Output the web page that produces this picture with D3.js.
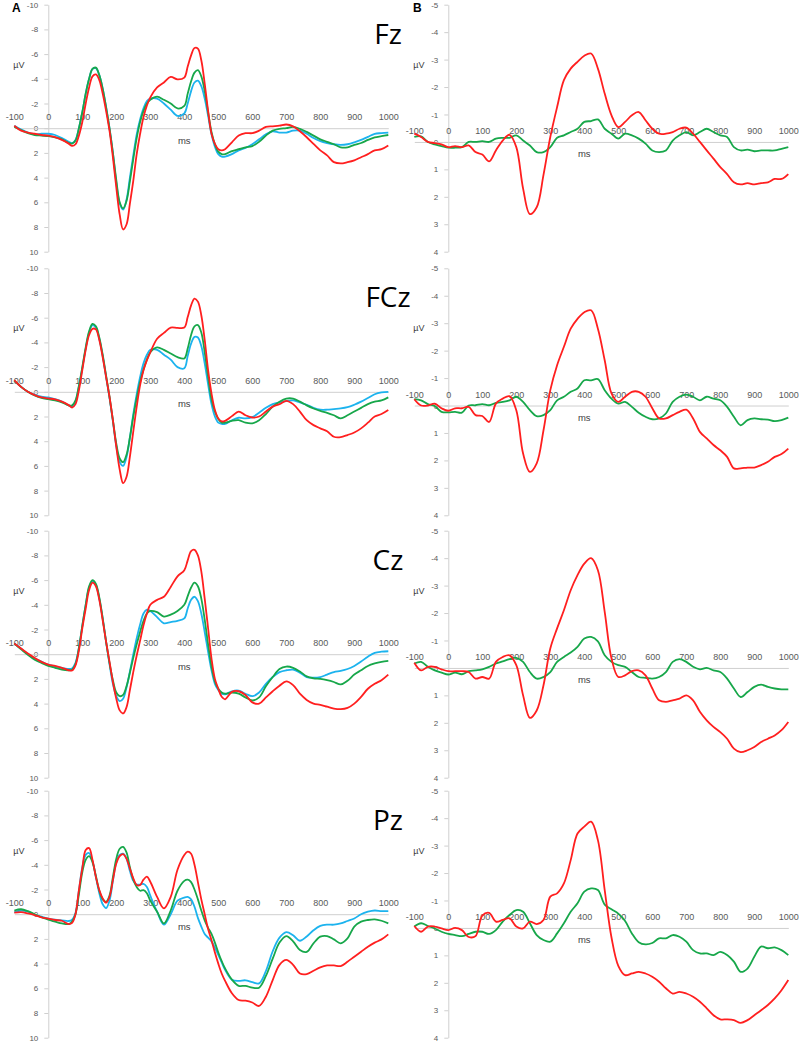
<!DOCTYPE html>
<html><head><meta charset="utf-8">
<script src="https://cdn.jsdelivr.net/npm/d3@7/dist/d3.min.js"></script>
<style>body{margin:0;background:#fff}svg{display:block}</style>
</head><body>
<svg id="chart" width="799" height="1042"></svg>
<script>
// ---------- DATA ----------
const electrodes = ["Fz", "FCz", "Cz", "Pz"];
const xTicks = [-100, 0, 100, 200, 300, 400, 500, 600, 700, 800, 900, 1000];
const yTicksA = [-10, -8, -6, -4, -2, 0, 2, 4, 6, 8, 10];
const yTicksB = [-5, -4, -3, -2, -1, 0, 1, 2, 3, 4];

// time points (ms) for panel A curves
const tA = [-100,-80,-60,-40,-20,0,20,40,60,
  70,80,90,100,110,120,130,140,150,160,170,180,190,200,210,220,230,240,250,260,270,280,290,300,
  320,340,360,380,400,
  410,420,430,440,450,460,470,480,490,500,510,520,
  540,560,580,600,620,640,660,680,700,720,740,760,780,800,820,840,860,880,900,920,940,960,980,1000];
// time points (ms) for panel B curves
const tB = d3.range(-100, 1001, 20);

// Panel A (µV, negative up)
const fzRedA = [-0.2,0.2,0.35,0.45,0.55,0.6,0.73,0.95,1.25,
  1.43,1.3,0.6,-0.5,-2.0,-3.3,-4.2,-4.35,-3.9,-2.8,-1.4,0.2,2.35,4.8,7.0,8.2,7.8,6.1,4.25,2.1,0.46,-0.9,-1.85,-2.5,
  -3.3,-3.7,-4.15,-3.95,-4.1,
  -5.0,-5.9,-6.5,-6.45,-5.5,-3.6,-1.4,0.45,1.27,1.7,1.8,1.7,
  1.14,0.6,0.4,0.4,0.2,-0.1,-0.15,-0.2,-0.3,-0.15,0.25,0.73,1.27,1.8,2.2,2.75,2.85,2.75,2.6,2.35,2.1,1.8,1.7,1.4];
const fzGreenA = [-0.1,0.15,0.4,0.55,0.6,0.65,0.75,0.9,1.2,
  1.25,1.0,0.0,-1.3,-2.8,-4.0,-4.8,-4.9,-4.3,-3.2,-1.7,0.0,2.0,4.2,6.0,6.5,5.9,4.3,2.5,0.8,-0.5,-1.4,-2.0,-2.3,
  -2.55,-2.3,-2.0,-1.6,-1.8,
  -2.8,-3.8,-4.5,-4.7,-4.2,-3.0,-1.3,0.3,1.3,1.9,2.1,2.1,
  1.85,1.7,1.55,1.45,1.1,0.6,0.2,0.05,0.0,-0.1,0.05,0.3,0.6,0.9,1.1,1.3,1.55,1.55,1.35,1.2,0.95,0.75,0.65,0.55];
const fzBlueA = [-0.2,0.1,0.35,0.5,0.45,0.45,0.55,0.8,1.1,
  1.2,0.95,0.0,-1.3,-2.8,-4.0,-4.8,-4.85,-4.3,-3.2,-1.7,0.0,2.0,4.4,6.1,6.6,5.8,4.0,2.2,0.5,-0.7,-1.6,-2.2,-2.4,
  -2.4,-2.0,-1.5,-1.0,-1.2,
  -2.0,-3.0,-3.7,-3.85,-3.4,-2.4,-1.0,0.5,1.5,2.1,2.3,2.3,
  2.1,1.8,1.6,1.3,0.9,0.5,0.25,0.35,0.35,0.2,0.2,0.45,0.8,1.05,1.2,1.3,1.35,1.3,1.15,0.95,0.7,0.45,0.4,0.35];

const fczRedA = [-0.95,-0.4,0.0,0.27,0.46,0.54,0.62,0.8,1.08,
  1.27,1.0,-0.13,-1.75,-3.4,-4.6,-5.1,-5.05,-4.2,-2.8,-1.2,0.4,2.3,4.45,6.3,7.4,6.9,5.25,3.2,1.2,-0.54,-1.75,-2.56,-3.2,
  -4.3,-4.77,-5.2,-5.17,-5.2,
  -6.05,-7.0,-7.55,-7.3,-6.2,-4.2,-1.75,0.13,1.48,2.16,2.4,2.35,
  1.97,1.6,1.9,2.08,2.0,1.6,1.2,1.0,0.73,1.0,1.6,2.3,2.7,2.96,3.2,3.64,3.67,3.5,3.3,2.96,2.5,2.0,1.8,1.48];
const fczGreenA = [-0.9,-0.4,0.0,0.3,0.5,0.6,0.7,0.85,1.1,
  1.1,0.7,-0.5,-2.0,-3.6,-4.9,-5.5,-5.3,-4.4,-3.0,-1.3,0.4,2.3,4.2,5.4,5.7,5.1,3.7,2.0,0.5,-0.8,-1.8,-2.6,-3.2,
  -3.6,-3.4,-3.1,-2.8,-2.7,
  -3.5,-4.6,-5.3,-5.4,-4.8,-3.2,-1.2,0.6,1.6,2.2,2.5,2.5,
  2.35,2.3,2.5,2.55,2.3,1.8,1.2,0.8,0.55,0.55,0.8,1.1,1.35,1.55,1.7,1.9,2.15,1.9,1.6,1.3,1.0,0.8,0.7,0.45];
const fczBlueA = [-0.9,-0.4,0.0,0.25,0.4,0.45,0.6,0.8,1.1,
  1.2,0.8,-0.4,-1.9,-3.5,-4.8,-5.4,-5.2,-4.3,-2.9,-1.2,0.5,2.4,4.4,5.7,6.0,5.3,3.7,1.8,0.2,-1.2,-2.3,-3.0,-3.4,
  -3.4,-3.0,-2.6,-2.0,-1.9,
  -2.9,-3.9,-4.45,-4.4,-3.7,-2.3,-0.6,1.0,2.0,2.5,2.6,2.6,
  2.3,2.1,2.15,2.05,1.7,1.3,1.0,0.85,0.75,0.7,0.85,1.05,1.3,1.45,1.45,1.4,1.35,1.25,1.05,0.8,0.5,0.2,0.05,0.0];

const czRedA = [-0.86,-0.46,-0.05,0.3,0.62,0.84,0.95,1.1,1.3,
  1.32,0.9,-0.3,-2.1,-3.7,-5.2,-5.8,-5.5,-4.4,-2.75,-1.0,0.6,2.25,3.6,4.55,4.8,4.3,2.9,1.43,0.1,-1.1,-2.35,-3.3,-4.0,
  -4.4,-4.65,-5.45,-6.3,-6.8,
  -7.6,-8.35,-8.45,-8.0,-6.7,-4.5,-2.1,0.35,2.0,2.8,3.45,3.65,
  3.05,3.0,3.3,3.9,4.0,3.5,3.0,2.55,2.2,2.5,3.2,3.7,4.0,4.1,4.25,4.4,4.45,4.35,4.0,3.45,2.8,2.4,2.1,1.65];
const czGreenA = [-0.86,-0.4,0.05,0.45,0.7,0.95,1.1,1.25,1.3,
  1.25,0.8,-0.5,-2.3,-4.0,-5.5,-6.0,-5.7,-4.6,-2.9,-1.0,0.7,2.1,3.1,3.4,3.3,2.6,1.5,0.3,-0.8,-1.8,-2.7,-3.3,-3.5,
  -3.4,-3.05,-3.2,-3.5,-4.0,
  -4.7,-5.4,-5.8,-5.5,-4.5,-2.8,-0.8,1.0,2.2,2.8,3.1,3.2,
  3.1,3.2,3.5,3.75,3.5,2.6,1.85,1.2,1.0,1.1,1.4,1.8,1.95,2.0,2.1,2.25,2.45,2.15,1.65,1.3,0.95,0.75,0.62,0.54];
const czBlueA = [-0.86,-0.45,0.0,0.35,0.6,0.85,1.0,1.1,1.2,
  1.15,0.7,-0.5,-2.3,-4.0,-5.4,-5.9,-5.6,-4.5,-2.9,-1.0,0.8,2.4,3.4,3.8,3.6,2.7,1.4,0.0,-1.3,-2.4,-3.3,-3.6,-3.5,
  -3.0,-2.5,-2.6,-2.7,-2.9,
  -3.7,-4.4,-4.65,-4.3,-3.3,-1.8,-0.2,1.3,2.4,2.9,3.2,3.25,
  3.0,2.95,3.2,3.4,3.1,2.4,1.85,1.45,1.3,1.25,1.5,1.85,1.9,1.85,1.65,1.45,1.35,1.2,0.95,0.6,0.2,-0.1,-0.2,-0.24];

const pzRedA = [-0.12,-0.17,-0.07,0.07,0.26,0.36,0.47,0.53,0.8,
  0.7,0.0,-1.95,-3.7,-5.2,-5.35,-4.4,-3.0,-1.95,-1.28,-0.93,-1.4,-2.76,-4.1,-4.7,-4.87,-4.5,-3.7,-2.9,-2.36,-2.36,-2.8,-3.04,-2.63,
  -1.4,-0.47,-1.4,-3.6,-4.8,
  -5.06,-4.9,-4.0,-2.6,-1.2,0.0,1.2,2.1,3.1,4.0,4.8,5.4,
  6.4,6.95,7.0,7.15,7.43,6.68,5.33,4.1,3.7,4.1,4.8,4.85,4.58,4.3,4.15,4.15,4.2,3.85,3.44,3.04,2.63,2.3,2.04,1.63];
const pzGreenA = [-0.3,-0.4,-0.25,0.0,0.25,0.45,0.6,0.75,0.8,
  0.6,0.0,-1.6,-3.4,-4.4,-4.7,-4.2,-3.1,-1.9,-1.2,-1.0,-1.5,-3.0,-4.5,-5.3,-5.45,-5.0,-3.8,-2.8,-2.2,-1.9,-1.95,-1.7,-1.1,
  -0.2,0.75,-0.3,-1.9,-2.7,
  -2.8,-2.6,-2.0,-1.2,-0.3,0.5,1.1,1.6,2.3,3.1,3.8,4.4,
  5.3,5.8,5.8,5.95,5.95,5.0,3.6,2.3,1.77,2.2,2.9,3.05,2.36,1.82,1.77,2.04,2.36,1.96,1.0,0.6,0.47,0.42,0.53,0.74];
const pzBlueA = [-0.15,-0.3,-0.2,0.05,0.2,0.35,0.45,0.5,0.55,
  0.45,-0.1,-1.9,-3.8,-4.8,-4.95,-4.3,-3.0,-1.7,-0.8,-0.5,-1.1,-2.7,-4.2,-4.8,-4.9,-4.5,-3.5,-2.7,-2.4,-2.4,-2.45,-2.2,-1.5,
  -0.2,0.85,0.0,-1.1,-1.35,
  -1.4,-1.2,-0.6,0.3,1.0,1.6,1.9,2.2,2.7,3.3,3.9,4.5,
  5.3,5.4,5.35,5.5,5.6,4.6,3.0,1.9,1.45,1.7,2.15,1.8,1.3,0.95,0.85,0.85,0.75,0.55,0.35,0.0,-0.2,-0.3,-0.25,-0.25];

// Panel B (µV, negative up)
const fzRedB = [-0.3,-0.18,0,0.04,0.09,0.19,0.15,0.19,0.13,0.37,0.46,0.71,0.31,-0.05,-0.26,0.19,1.7,2.63,2.38,1.2,
  -0.18,-1.27,-2.25,-2.67,-2.92,-3.14,-3.22,-2.67,-1.76,-0.97,-0.54,-0.73,-0.97,-1.09,-0.79,-0.48,-0.3,-0.3,-0.36,-0.48,
  -0.52,-0.3,0,0.31,0.61,0.92,1.17,1.47,1.55,1.5,1.55,1.5,1.47,1.35,1.35,1.17];
const fzGreenB = [-0.18,-0.2,0,0.09,0.15,0.21,0.21,0.19,0.0,0.0,-0.03,0.0,-0.12,-0.15,-0.15,-0.24,-0.05,0.13,0.37,0.37,
  0.19,-0.15,-0.24,-0.36,-0.48,-0.73,-0.76,-0.82,-0.48,-0.3,-0.12,-0.3,-0.24,-0.12,0.06,0.31,0.37,0.31,-0.05,-0.24,
  -0.36,-0.24,-0.36,-0.48,-0.36,-0.24,-0.18,0.19,0.31,0.28,0.34,0.31,0.31,0.31,0.25,0.19];
const fczRedB = [-0.23,0.0,0.0,-0.07,0.1,0.19,0.1,0.1,0.05,0.35,0.38,0.6,-0.07,-0.25,-0.34,0.17,1.75,2.42,2.11,0.9,
  -0.56,-1.47,-2.14,-2.8,-3.16,-3.4,-3.47,-2.8,-1.65,-0.44,-0.13,-0.32,-0.5,-0.5,-0.32,0.1,0.47,0.47,0.35,0.23,
  0.15,0.47,0.96,1.2,1.44,1.63,1.87,2.29,2.29,2.26,2.26,2.17,2.05,1.87,1.77,1.57];
const fczGreenB = [-0.23,-0.19,-0.05,0.02,0.23,0.25,0.23,0.26,0.0,-0.01,-0.05,-0.01,-0.1,-0.13,-0.19,-0.32,-0.13,0.17,0.39,0.35,
  0.17,-0.19,-0.32,-0.5,-0.62,-0.92,-0.92,-0.96,-0.56,-0.25,-0.07,-0.13,0.05,0.26,0.41,0.5,0.47,0.29,-0.13,-0.32,
  -0.4,-0.32,-0.19,-0.32,-0.25,-0.19,0.05,0.41,0.72,0.53,0.47,0.5,0.51,0.57,0.53,0.44];
const czRedB = [-0.19,0.09,-0.04,-0.04,0.05,0.12,0.12,0.12,0.15,0.39,0.33,0.39,-0.22,-0.4,-0.46,-0.1,1.0,1.82,1.55,0.63,
  -0.71,-1.44,-2.1,-2.83,-3.38,-3.8,-4.0,-3.56,-2.04,-0.34,0.33,0.27,0.12,0.09,0.27,0.75,1.18,1.24,1.18,1.12,
  1.0,1.18,1.6,1.91,2.15,2.34,2.58,2.94,3.07,3.0,2.88,2.7,2.58,2.46,2.27,1.97];
const czGreenB = [-0.16,-0.22,-0.04,0.09,0.17,0.24,0.17,0.23,0.12,0.09,0.05,-0.04,-0.16,-0.24,-0.32,-0.37,-0.22,0.15,0.39,0.33,
  0.15,-0.22,-0.4,-0.56,-0.77,-1.07,-1.13,-0.97,-0.46,-0.22,-0.1,-0.04,0.15,0.33,0.36,0.39,0.33,0.15,-0.22,-0.32,
  -0.22,-0.04,0.05,0.0,0.09,0.15,0.39,0.75,1.06,0.88,0.69,0.61,0.69,0.75,0.78,0.78];
const pzRedB = [-0.07,0.14,-0.05,-0.05,0.02,0.08,0.0,0.08,0.33,0.3,-0.45,-0.55,-0.23,-0.29,-0.35,-0.05,0.02,-0.23,-0.14,-0.29,
  -1.14,-1.26,-1.62,-2.47,-3.44,-3.69,-3.87,-3.2,-1.38,0.35,1.38,1.72,1.66,1.6,1.66,1.78,1.96,2.2,2.39,2.33,
  2.39,2.51,2.69,2.93,3.18,3.33,3.33,3.36,3.46,3.36,3.18,3.0,2.81,2.57,2.27,1.9];
const pzGreenB = [-0.05,-0.17,-0.07,0.02,0.14,0.22,0.26,0.3,0.22,0.14,0.14,0.22,0.08,-0.23,-0.47,-0.65,-0.59,-0.17,0.26,0.44,
  0.5,0.2,-0.17,-0.59,-0.9,-1.32,-1.44,-1.38,-0.85,-0.68,-0.52,-0.25,0.2,0.52,0.6,0.55,0.38,0.38,0.26,0.32,
  0.5,0.81,0.93,0.93,0.99,0.87,0.99,1.23,1.6,1.48,1.05,0.68,0.74,0.71,0.81,0.99];

const seriesA = [
  [fzBlueA, fzGreenA, fzRedA],
  [fczBlueA, fczGreenA, fczRedA],
  [czBlueA, czGreenA, czRedA],
  [pzBlueA, pzGreenA, pzRedA]
];
const seriesB = [
  [fzGreenB, fzRedB],
  [fczGreenB, fczRedB],
  [czGreenB, czRedB],
  [pzGreenB, pzRedB]
];
const colorsA = ["#1cb3ee", "#17a74a", "#ff1f1f"];
const colorsB = ["#17a74a", "#ff1f1f"];

// ---------- LAYOUT ----------
const svg = d3.select("#chart");
const rowTops = [4.7, 268.3, 530.7, 790.7];
const plotH = 247;
const axisGray = "#cfcfcf";
const tickFont = "Liberation Sans, Arial, sans-serif";

function drawPanel(top, xRange, yDomain, yTicks, series, colors, tArr) {
  const x = d3.scaleLinear().domain([-100, 1000]).range(xRange);
  const y = d3.scaleLinear().domain(yDomain).range([top, top + plotH]);
  const x0 = x(0), y0 = y(0);

  // vertical axis
  const ya = svg.append("g").attr("transform", `translate(${x0},0)`)
    .call(d3.axisLeft(y).tickValues(yTicks).tickSize(4).tickSizeOuter(0).tickPadding(6).tickFormat(d => String(d)));
  ya.select(".domain").attr("stroke", axisGray);
  ya.selectAll(".tick line").attr("stroke", axisGray);
  ya.selectAll(".tick text").attr("fill", "#595959").style("font-family", tickFont).style("font-size", "8px");

  // horizontal axis at 0
  const xa = svg.append("g").attr("transform", `translate(0,${y0})`)
    .call(d3.axisTop(x).tickValues(xTicks).tickSize(0).tickSizeOuter(0).tickPadding(8).tickFormat(d => String(d)));
  xa.select(".domain").attr("stroke", axisGray);
  xa.selectAll(".tick text").attr("fill", "#595959").style("font-family", tickFont).style("font-size", "9px");

  // axis titles
  svg.append("text").attr("x", xRange[0] - 1).attr("y", top + 63)
    .attr("fill", "#404040").style("font-family", tickFont).style("font-size", "9px").text("µV");
  svg.append("text").attr("x", x(400)).attr("y", y0 + 15.5).attr("text-anchor", "middle")
    .attr("fill", "#404040").style("font-family", tickFont).style("font-size", "9.5px").text("ms");

  // curves
  const line = d3.line().x((d, i) => x(tArr[i])).y(d => y(d)).curve(d3.curveCatmullRom.alpha(0.5));
  series.forEach((s, k) => {
    svg.append("path").datum(s).attr("d", line).attr("fill", "none")
      .attr("stroke", colors[k]).attr("stroke-width", 1.8).attr("stroke-linejoin", "round");
  });
}

rowTops.forEach((top, i) => {
  drawPanel(top, [14.3, 388.3], [-10, 10], yTicksA, seriesA[i], colorsA, tA);
  drawPanel(top, [414.3, 788.3], [-5, 4], yTicksB, seriesB[i], colorsB, tB);
  svg.append("text").attr("x", 388).attr("y", top + 39).attr("text-anchor", "middle")
    .attr("fill", "#000").style("font-family", "Open Sans, DejaVu Sans, sans-serif").style("font-size", "28px")
    .text(electrodes[i]);
});

svg.append("text").attr("x", 12).attr("y", 12).style("font-family", "Liberation Sans, Arial, sans-serif")
  .style("font-size", "12px").style("font-weight", "bold").text("A");
svg.append("text").attr("x", 413).attr("y", 12).style("font-family", "Liberation Sans, Arial, sans-serif")
  .style("font-size", "12px").style("font-weight", "bold").text("B");
</script>
</body></html>
